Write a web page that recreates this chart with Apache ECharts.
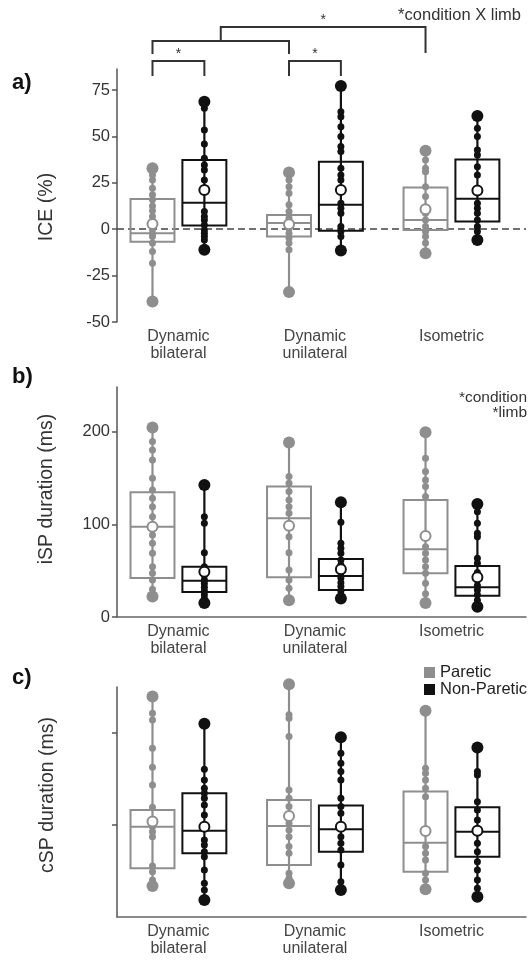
<!DOCTYPE html>
<html>
<head>
<meta charset="utf-8">
<script src="https://cdn.jsdelivr.net/npm/echarts@6/dist/echarts.min.js"></script>
<style>
html,body{margin:0;padding:0;background:#fff;}
#chart{width:528px;height:961px;}
</style>
</head>
<body>
<div id="chart"></div>
<script>
// ---------------- DATA ----------------
const categories = ['Dynamic\nbilateral', 'Dynamic\nunilateral', 'Isometric'];
const limbs = ['Paretic', 'Non-Paretic'];

// a) ICE (%)
const iceTicks = [-50, -25, 0, 25, 50, 75];
const iceParetic = [
  [32.8, 29.2, 26.5, 22.1, 18.5, 15.8, 12.5, 10, 6.8, 0, -2.2, -4, -7.5, -12, -18.3, -39],
  [30.5, 26.5, 22.9, 19.4, 13.1, 9.5, 5.9, 0.5, -2.2, -4.8, -7.5, -11.1, -33.9],
  [42.2, 37.3, 32.8, 31, 22.9, 17.6, 8.6, 5, 1.4, -1.3, -4, -7.5, -12.9]
];
const iceNonParetic = [
  [68.7, 65.1, 53.5, 45.9, 38.2, 34.6, 31.9, 26.5, 9.5, 6.8, 5, 2.3, -0.4, -2.2, -4, -5.8, -11.1],
  [77.2, 63.3, 60.6, 55.2, 49.9, 44.5, 41.8, 32.8, 29.2, 26.5, 14, 11.3, 8.6, 1.4, -1.3, -4, -11.5],
  [61, 54.4, 49.9, 42.7, 40, 33.7, 29.2, 14, 11.3, 8.6, 5, 1.4, -1.3, -5.8]
];
const iceBoxParetic = [[-6.7, -2.2, 16.2], [-3.9, 3.3, 7.7], [-0.4, 5, 22.4]];      // q1, median, q3
const iceBoxNonParetic = [[2, 14.3, 37.3], [-0.8, 13.1, 36.3], [4.1, 16.4, 37.6]];
const iceMeanParetic = [2.8, 2.7, 10.8];
const iceMeanNonParetic = [21.1, 21.1, 20.9];

// b) iSP duration (ms)
const ispTicks = [0, 100, 200];
const ispParetic = [
  [204.3, 189.2, 180.2, 169.4, 149.7, 137, 128, 119, 108.2, 88.4, 79.5, 68.7, 54.2, 47.1, 39.8, 30, 22],
  [188.1, 151.4, 144.3, 135.2, 126.2, 119, 111.9, 86.6, 69.4, 50.6, 39.8, 30.9, 18],
  [199.3, 171.3, 156.8, 147.8, 140.6, 129.8, 75.8, 68.7, 61.4, 54.2, 47.1, 36.3, 25, 15]
];
const ispNonParetic = [
  [142.4, 108.2, 101, 69.4, 54.2, 45, 40, 36, 32, 28, 24, 20, 15],
  [123.8, 102.2, 79.5, 74.1, 68.7, 61.4, 56, 48, 42, 37, 33, 28, 24, 20],
  [121.9, 113.6, 101, 90.3, 86.6, 63.3, 57.9, 48, 40, 34, 29, 24, 18, 11]
];
const ispBoxParetic = [[42, 97.4, 134.6], [42.8, 106.5, 140.6], [47.1, 73, 126.2]];
const ispBoxNonParetic = [[27, 39.1, 54.2], [29, 44.2, 62.5], [23, 32, 55]];
const ispMeanParetic = [97.4, 98.5, 87.4];
const ispMeanNonParetic = [48.8, 51.4, 42.8];

// c) cSP duration (ms)  (tick values unlabelled in the original)
const cspTicks = [100, 200];
const cspParetic = [
  [238.7, 220.7, 213.4, 182.8, 162.2, 143, 118.8, 97.8, 92.4, 87, 55.3, 49.1, 40.1, 33.6],
  [252, 218.9, 215.3, 195.3, 137.6, 128.6, 119.5, 101.5, 94.3, 87, 76.2, 69, 47.3, 41.9, 36.5],
  [223.2, 161.1, 155.7, 148.4, 139.4, 130.3, 76.2, 69, 61.8, 47.3, 40.1, 30]
];
const cspNonParetic = [
  [209.1, 160, 148.4, 139.4, 134, 128.6, 121.3, 110.5, 83.4, 78, 70.7, 65.3, 50.9, 36.5, 29.3, 18.4],
  [194.7, 177.4, 166.5, 157.4, 148.4, 128.6, 119.5, 112.4, 87, 79.8, 72.6, 56.3, 38.2, 29.3],
  [183.4, 157.4, 153.8, 124.9, 115.9, 105.1, 79.8, 70.7, 59.9, 50.9, 40.1, 31.1, 22]
];
const cspBoxParetic = [[52.8, 97.8, 115.9], [56.3, 98.6, 126.8], [49.1, 80.5, 135.8]];
const cspBoxNonParetic = [[69, 93.5, 134], [70.7, 95, 120.6], [65.3, 92.4, 118.8]];
const cspMeanParetic = [103.3, 109.4, 93.2];
const cspMeanNonParetic = [97.8, 97.8, 93.5];

// ---------------- STYLE ----------------
const FONT = 'Liberation Sans, Arial, Helvetica, sans-serif';
const GRAY = '#8e8e8e';
const BLACK = '#111111';
const OFFSET = 0.19;     // limb offset within a category (x units)
const BOX_HALF = 0.161;  // half box width (x units)
const XMIN = -0.45, XMAX = 2.546;

const chart = echarts.init(document.getElementById('chart'), null, {renderer: 'canvas'});

function renderBox(params, api) {
  const x = api.value(0);
  const lo = api.coord([x, api.value(1)]);
  const q1 = api.coord([x, api.value(2)]);
  const md = api.coord([x, api.value(3)]);
  const q3 = api.coord([x, api.value(4)]);
  const hi = api.coord([x, api.value(5)]);
  const hw = api.size([BOX_HALF, 0])[0];
  const col = api.visual('color');
  return {
    type: 'group',
    children: [
      {type: 'line', shape: {x1: lo[0], y1: lo[1], x2: hi[0], y2: hi[1]}, style: {stroke: col, lineWidth: 2.2}},
      {type: 'rect', shape: {x: q3[0] - hw, y: q3[1], width: 2 * hw, height: q1[1] - q3[1]},
        style: {stroke: col, fill: 'none', lineWidth: 2}},
      {type: 'line', shape: {x1: md[0] - hw, y1: md[1], x2: md[0] + hw, y2: md[1]}, style: {stroke: col, lineWidth: 2}}
    ]
  };
}

function limbSeries(k, name, color, off, pts, box, mean, extra) {
  const s = [];
  const boxData = pts.map((p, i) => [i + off, Math.min(...p), box[i][0], box[i][1], box[i][2], Math.max(...p)]);
  const boxSeries = {
    type: 'custom', name: name, xAxisIndex: k, yAxisIndex: k, silent: true, clip: false,
    itemStyle: {color: color}, renderItem: renderBox, data: boxData, z: 2,
    encode: {x: 0, y: [1, 2, 3, 4, 5]}
  };
  if (extra) Object.assign(boxSeries, extra);
  s.push(boxSeries);
  const small = [];
  pts.forEach((p, i) => p.forEach(v => small.push([i + off, v])));
  s.push({type: 'scatter', name: name, xAxisIndex: k, yAxisIndex: k, silent: true, clip: false, symbolSize: 7,
    itemStyle: {color: color, opacity: 1}, data: small, z: 3});
  const ext = [];
  pts.forEach((p, i) => { ext.push([i + off, Math.min(...p)]); ext.push([i + off, Math.max(...p)]); });
  s.push({type: 'scatter', name: name, xAxisIndex: k, yAxisIndex: k, silent: true, clip: false, symbolSize: 12,
    itemStyle: {color: color, opacity: 1}, data: ext, z: 4});
  s.push({type: 'scatter', name: name, xAxisIndex: k, yAxisIndex: k, silent: true, clip: false, symbolSize: 10,
    itemStyle: {color: '#ffffff', borderColor: color, borderWidth: 2, opacity: 1},
    data: mean.map((v, i) => [i + off, v]), z: 5});
  return s;
}

const grids = [
  {left: 117, top: 69, width: 409, height: 253},
  {left: 117, top: 387, width: 409, height: 230},
  {left: 117, top: 687, width: 409, height: 230}
];

function xAxisFor(k, showLine) {
  return {
    type: 'value', gridIndex: k, min: XMIN, max: XMAX,
    axisLine: {show: showLine, onZero: false, lineStyle: {color: '#666', width: 1.5}},
    axisTick: {show: false},
    splitLine: {show: false},
    axisLabel: {
      customValues: [0, 1, 2], formatter: v => categories[Math.round(v)],
      color: '#444', fontSize: 16, lineHeight: 17, margin: 6, fontFamily: FONT
    }
  };
}

function yAxisFor(k, min, max, ticks, showLabels) {
  return {
    type: 'value', gridIndex: k, min: min, max: max,
    axisLine: {show: true, onZero: false, lineStyle: {color: '#555', width: 1.5}},
    axisTick: {show: true, customValues: ticks, length: 5, lineStyle: {color: '#555', width: 1.5}},
    splitLine: {show: false},
    axisLabel: {show: showLabels, customValues: ticks, color: '#333', fontSize: 16.5, margin: 7, fontFamily: FONT}
  };
}

const series = [].concat(
  limbSeries(0, 'Paretic', GRAY, -OFFSET, iceParetic, iceBoxParetic, iceMeanParetic, {
    markLine: {silent: true, symbol: 'none', label: {show: false},
      lineStyle: {color: '#444', width: 1.5, type: [7, 4]}, data: [{yAxis: 0}], z: 1}
  }),
  limbSeries(0, 'Non-Paretic', BLACK, OFFSET, iceNonParetic, iceBoxNonParetic, iceMeanNonParetic),
  limbSeries(1, 'Paretic', GRAY, -OFFSET, ispParetic, ispBoxParetic, ispMeanParetic),
  limbSeries(1, 'Non-Paretic', BLACK, OFFSET, ispNonParetic, ispBoxNonParetic, ispMeanNonParetic),
  limbSeries(2, 'Paretic', GRAY, -OFFSET, cspParetic, cspBoxParetic, cspMeanParetic),
  limbSeries(2, 'Non-Paretic', BLACK, OFFSET, cspNonParetic, cspBoxNonParetic, cspMeanNonParetic)
);

const textStyleBase = {fontFamily: FONT, fill: '#333'};

chart.setOption({
  animation: false,
  backgroundColor: '#ffffff',
  grid: grids,
  xAxis: [xAxisFor(0, false), xAxisFor(1, true), xAxisFor(2, true)],
  yAxis: [
    yAxisFor(0, -50, 86.3, iceTicks, true),
    yAxisFor(1, 0, 248, ispTicks, true),
    yAxisFor(2, 0, 249, cspTicks, false)
  ],
  legend: {
    orient: 'vertical', left: 419, top: 659, itemWidth: 11, itemHeight: 11, itemGap: 0,
    selectedMode: false,
    textStyle: {fontSize: 16.5, lineHeight: 16, color: '#222', fontFamily: FONT},
    data: [
      {name: 'Paretic', icon: 'rect', itemStyle: {color: GRAY}},
      {name: 'Non-Paretic', icon: 'rect', itemStyle: {color: BLACK}}
    ]
  },
  series: series
});

// annotations positioned from the axis scale
const px = v => chart.convertToPixel({xAxisIndex: 0}, v);
const xDBp = px(0 - OFFSET), xDBn = px(0 + OFFSET);
const xDUp = px(1 - OFFSET), xDUn = px(1 + OFFSET);
const xISp = px(2 - OFFSET);
const midTop = (xDBp + xDUp) / 2;
const brk = {stroke: '#333', lineWidth: 2, fill: 'none'};

function txt(x, y, text, size, opts) {
  return Object.assign({type: 'text', x: x, y: y,
    style: Object.assign({text: text, fontSize: size, align: 'center', verticalAlign: 'middle'}, textStyleBase)}, opts || {});
}

chart.setOption({
  graphic: [
    // brackets
    {type: 'polyline', shape: {points: [[midTop, 40], [midTop, 27], [xISp, 27], [xISp, 53]]}, style: brk},
    {type: 'polyline', shape: {points: [[xDBp, 54], [xDBp, 41], [xDUp, 41], [xDUp, 54]]}, style: brk},
    {type: 'polyline', shape: {points: [[xDBp, 76], [xDBp, 61], [xDBn, 61], [xDBn, 76]]}, style: brk},
    {type: 'polyline', shape: {points: [[xDUp, 76], [xDUp, 61], [xDUn, 61], [xDUn, 76]]}, style: brk},
    txt((midTop + xISp) / 2, 20, '*', 14),
    txt((xDBp + xDBn) / 2, 54, '*', 14),
    txt((xDUp + xDUn) / 2, 54, '*', 14),
    // notes
    {type: 'text', x: 521, y: 15, style: Object.assign({text: '*condition X limb', fontSize: 16.5, align: 'right', verticalAlign: 'middle'}, textStyleBase)},
    {type: 'text', x: 527, y: 405, style: Object.assign({text: '*condition\n*limb', fontSize: 15.5, lineHeight: 15, align: 'right', verticalAlign: 'middle'}, textStyleBase)},
    // panel letters
    {type: 'text', x: 12, y: 83, style: Object.assign({text: 'a)', fontSize: 22, fontWeight: 'bold', align: 'left', verticalAlign: 'middle'}, textStyleBase, {fill: '#111'})},
    {type: 'text', x: 12, y: 377, style: Object.assign({text: 'b)', fontSize: 22, fontWeight: 'bold', align: 'left', verticalAlign: 'middle'}, textStyleBase, {fill: '#111'})},
    {type: 'text', x: 12, y: 678, style: Object.assign({text: 'c)', fontSize: 22, fontWeight: 'bold', align: 'left', verticalAlign: 'middle'}, textStyleBase, {fill: '#111'})},
    // axis titles
    txt(47, 207, 'ICE (%)', 19.5, {rotation: Math.PI / 2}),
    txt(47, 489, 'iSP duration (ms)', 19.5, {rotation: Math.PI / 2}),
    txt(48, 795, 'cSP duration (ms)', 19.5, {rotation: Math.PI / 2})
  ]
});
</script>
</body>
</html>
